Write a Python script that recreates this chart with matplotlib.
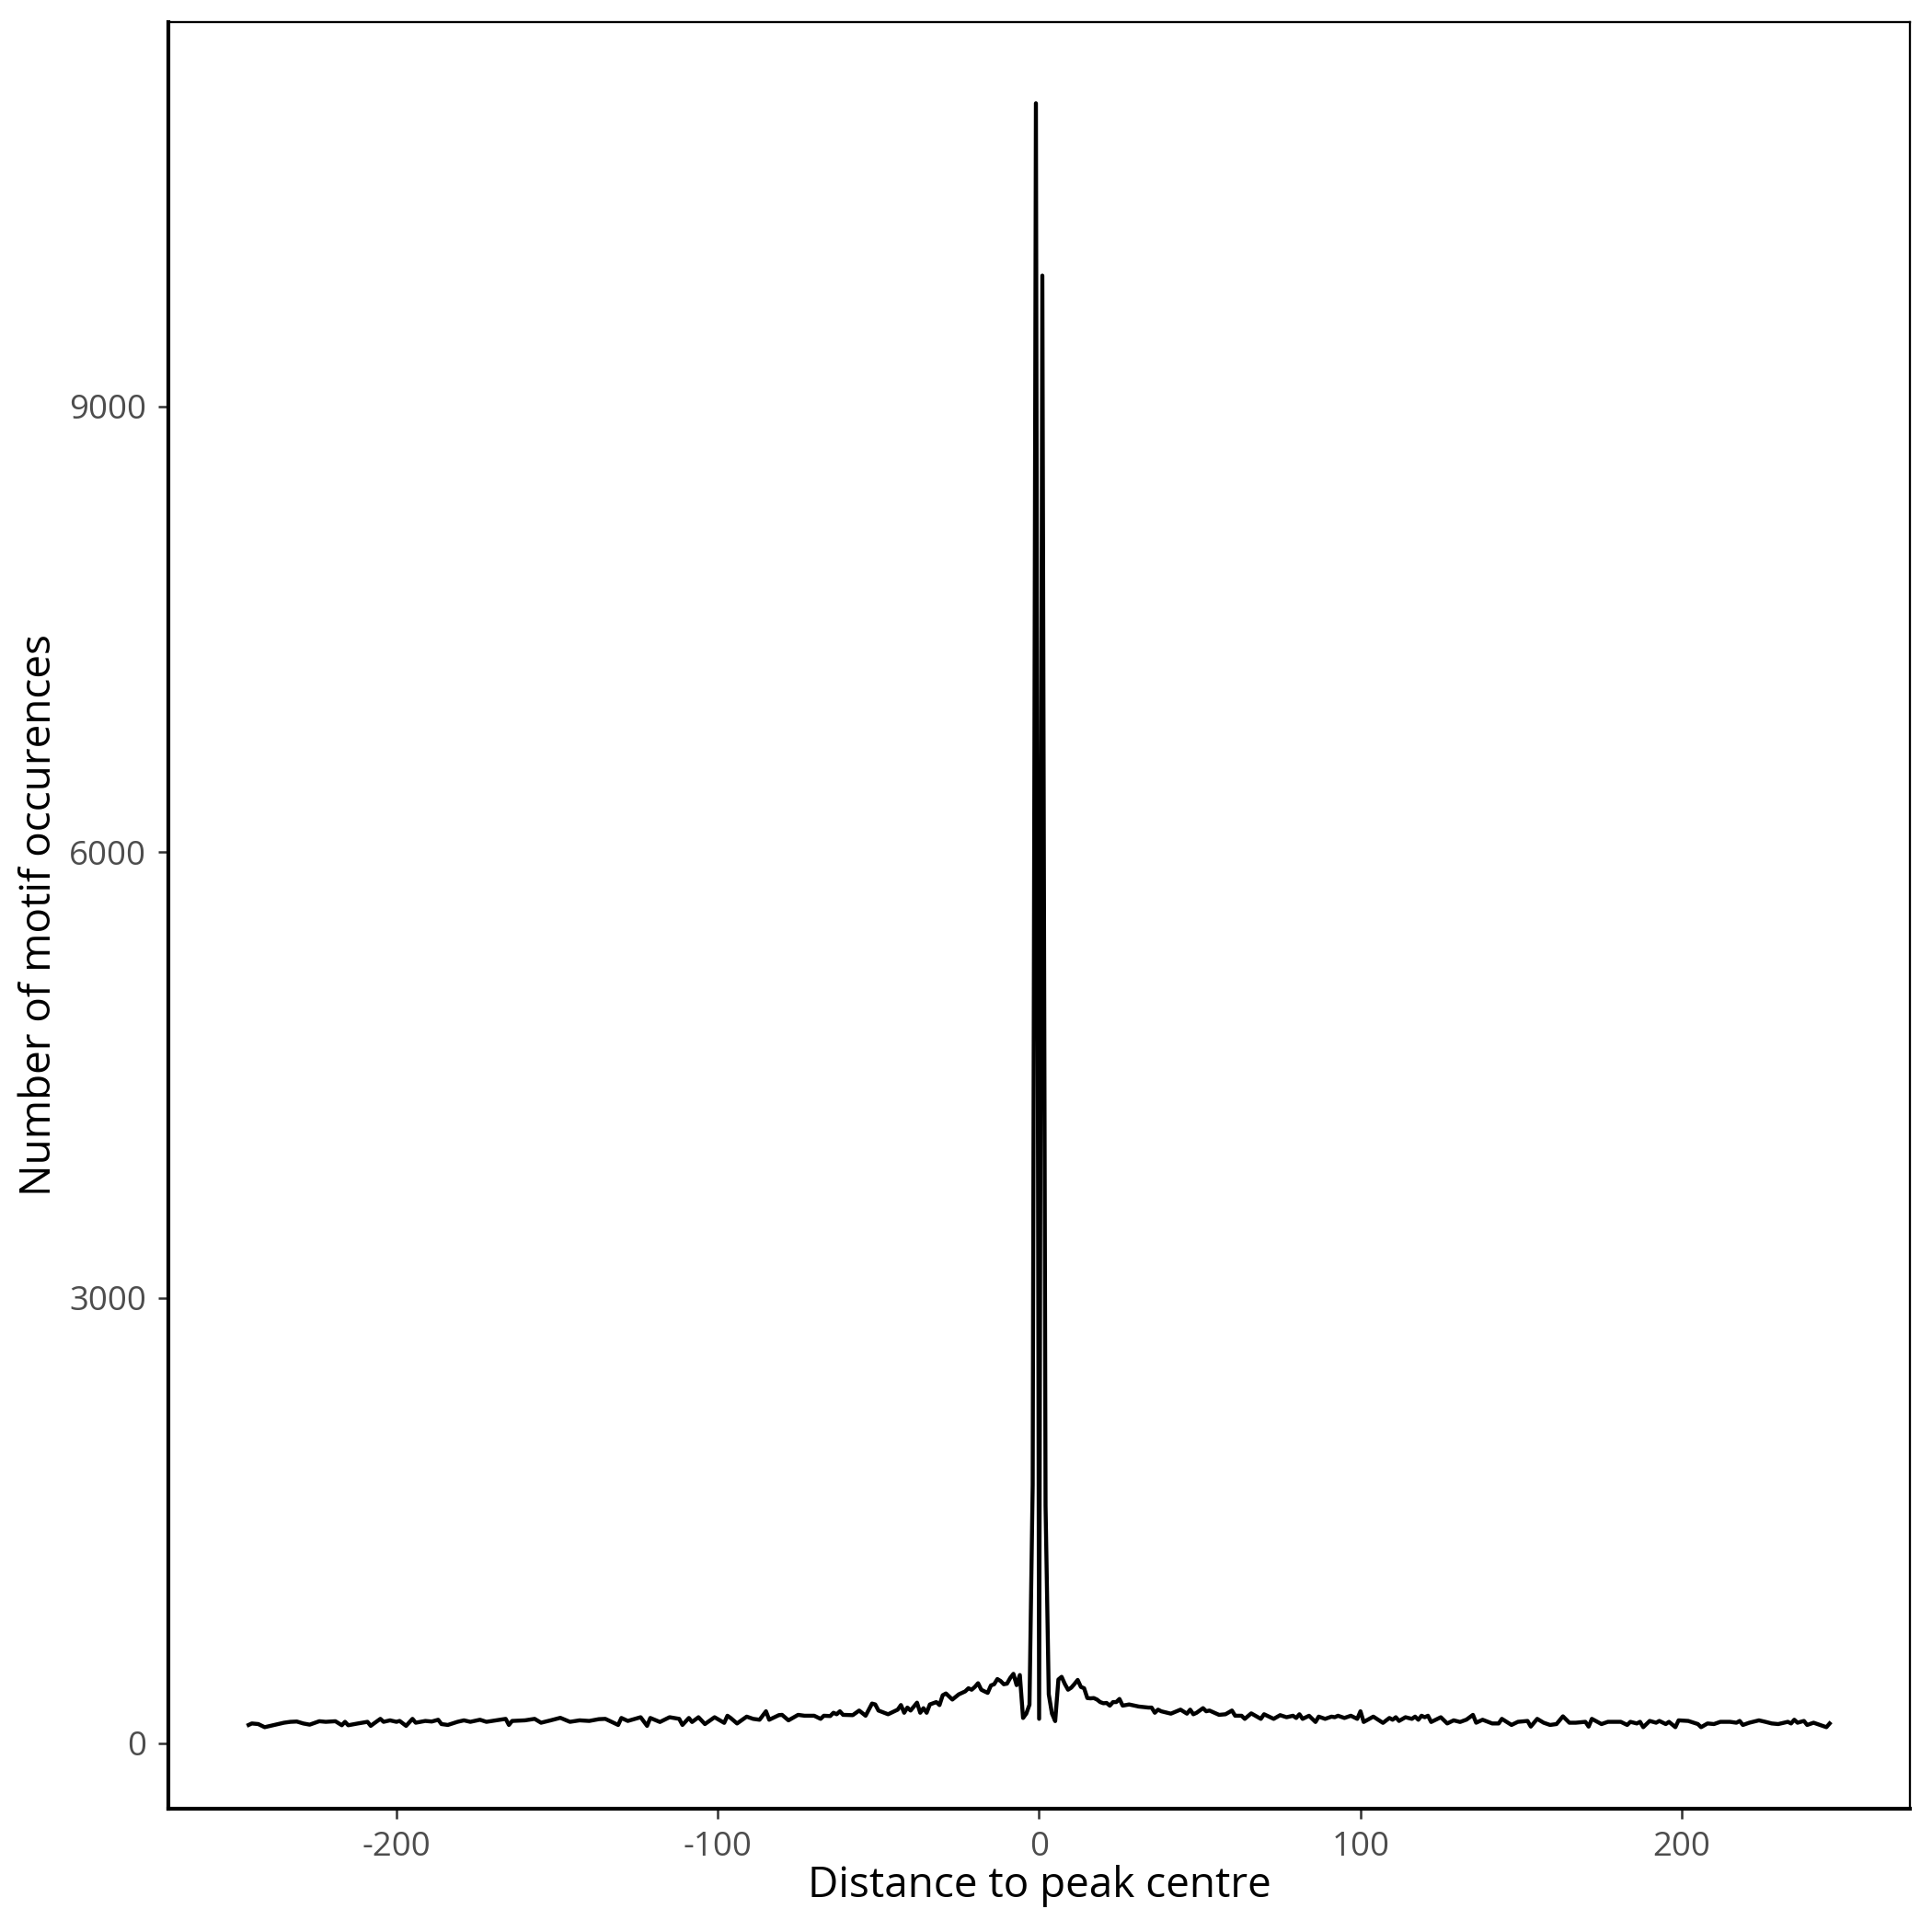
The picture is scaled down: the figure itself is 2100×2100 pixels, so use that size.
import numpy as np
import matplotlib
matplotlib.use("Agg")
import matplotlib.pyplot as plt

plt.rcParams["font.family"] = ["Open Sans", "DejaVu Sans"]
plt.rcParams["axes.unicode_minus"] = False

# distance to peak centre (bp) and motif counts
distance = [
    -246, -245, -243, -241, -238, -235, -233, -231, -229, -227, -224, -222,
    -219, -217, -216, -215, -212, -209, -208, -207, -205, -204, -202, -200,
    -199, -197, -195, -194, -191, -189, -187, -186, -184, -181, -179, -177,
    -174, -172, -169, -166, -165, -164, -160, -157, -155, -152, -149, -146,
    -143, -140, -137, -135, -131, -130, -128, -124, -122, -121, -118, -115,
    -112, -111, -109, -108, -106, -104, -101, -98, -97, -96, -94, -91,
    -89, -87, -85, -84, -81, -80, -78, -75, -73, -70, -68, -67,
    -65, -64, -63, -62, -61, -58, -56, -54, -52, -51, -50, -47,
    -44, -43, -42, -41, -40, -38, -37, -36, -35, -34, -32, -31,
    -30, -29, -27, -25, -24, -23, -22, -21, -20, -19, -18, -17,
    -16, -15, -14, -13, -12, -11, -10, -9, -8, -7, -6, -5,
    -4, -3, -2, -1, 0, 1, 2, 3, 4, 5, 6, 7,
    8, 9, 10, 11, 12, 13, 14, 15, 16, 17, 18, 19,
    20, 21, 22, 23, 24, 25, 26, 28, 31, 34, 35, 36,
    37, 38, 41, 44, 46, 47, 48, 49, 51, 52, 53, 56,
    58, 60, 61, 63, 64, 66, 69, 70, 73, 75, 77, 79,
    80, 81, 82, 84, 86, 87, 89, 91, 92, 93, 95, 97,
    99, 100, 101, 104, 107, 109, 110, 111, 112, 114, 116, 117,
    118, 119, 120, 121, 122, 125, 127, 129, 131, 133, 135, 136,
    138, 141, 143, 144, 147, 149, 152, 153, 155, 157, 159, 161,
    163, 165, 167, 170, 171, 172, 175, 177, 181, 183, 184, 186,
    187, 188, 190, 192, 193, 195, 196, 198, 199, 202, 205, 206,
    208, 210, 212, 215, 217, 218, 219, 221, 224, 226, 228, 230,
    233, 234, 235, 236, 238, 239, 241, 243, 245, 246,
]
occurences = [
    124, 134, 130, 109, 124, 139, 145, 147, 134, 126, 149, 145,
    149, 122, 145, 122, 134, 145, 118, 134, 165, 145, 155, 145,
    151, 118, 165, 139, 151, 147, 159, 130, 124, 145, 155, 145,
    159, 145, 155, 165, 124, 151, 155, 165, 139, 155, 172, 145,
    155, 151, 163, 165, 124, 171, 151, 176, 118, 171, 144, 176,
    165, 124, 171, 144, 176, 130, 176, 138, 186, 171, 134, 180,
    165, 159, 216, 159, 190, 192, 155, 192, 186, 186, 165, 186,
    184, 206, 196, 216, 192, 190, 221, 186, 268, 262, 221, 196,
    227, 258, 206, 241, 221, 274, 206, 237, 206, 262, 278, 258,
    324, 336, 295, 330, 340, 350, 371, 361, 380, 405, 361, 350,
    340, 390, 398, 433, 420, 398, 402, 440, 468, 392, 460, 171,
    200, 260, 1740, 11040, 165, 9880, 1600, 330, 200, 150, 430, 448,
    400, 361, 375, 400, 427, 380, 371, 305, 303, 305, 295, 278,
    270, 272, 254, 278, 278, 299, 254, 262, 248, 241, 241, 206,
    227, 216, 200, 227, 200, 227, 196, 206, 237, 216, 221, 192,
    196, 221, 186, 186, 165, 202, 165, 196, 165, 190, 176, 186,
    171, 196, 165, 186, 144, 180, 165, 180, 176, 186, 171, 186,
    165, 216, 144, 180, 138, 171, 159, 176, 151, 176, 165, 180,
    159, 186, 176, 186, 144, 176, 134, 155, 144, 160, 192, 139,
    159, 134, 134, 165, 124, 145, 151, 113, 165, 139, 124, 130,
    182, 139, 139, 145, 113, 165, 130, 145, 145, 124, 145, 134,
    145, 109, 151, 139, 151, 130, 145, 109, 155, 151, 130, 109,
    134, 130, 145, 145, 139, 151, 124, 139, 155, 145, 134, 130,
    145, 134, 159, 139, 151, 124, 139, 124, 109, 134,
]

y_ticks = [0, 3000, 6000, 9000]
x_ticks = [-200, -100, 0, 100, 200]

fig = plt.figure(figsize=(7, 7), dpi=300)
ax = fig.add_axes([0.0871, 0.0638, 0.9015, 0.9248])

ax.plot(distance, occurences, color="black", lw=1.05, solid_joinstyle="round")

ax.set_xlim(-271, 271)
ax.set_ylim(-440, 11587)
ax.set_xticks(x_ticks)
ax.set_yticks(y_ticks)

for side in ["left", "bottom"]:
    ax.spines[side].set_linewidth(1.0)
for side in ["top", "right"]:
    ax.spines[side].set_linewidth(0.55)

ax.tick_params(length=2.75, width=0.6, color="#333333", labelcolor="#4D4D4D",
               labelsize=8.8, pad=3)

ax.set_xlabel("Distance to peak centre", fontsize=11, color="black")
ax.set_ylabel("Number of motif occurences", fontsize=11, color="black")
ax.xaxis.set_label_coords(0.5, -0.043)
ax.xaxis.label.set_verticalalignment("center")
ax.yaxis.set_label_coords(-0.074, 0.5)
ax.yaxis.label.set_verticalalignment("center")

fig.savefig("out.png", dpi=300)
